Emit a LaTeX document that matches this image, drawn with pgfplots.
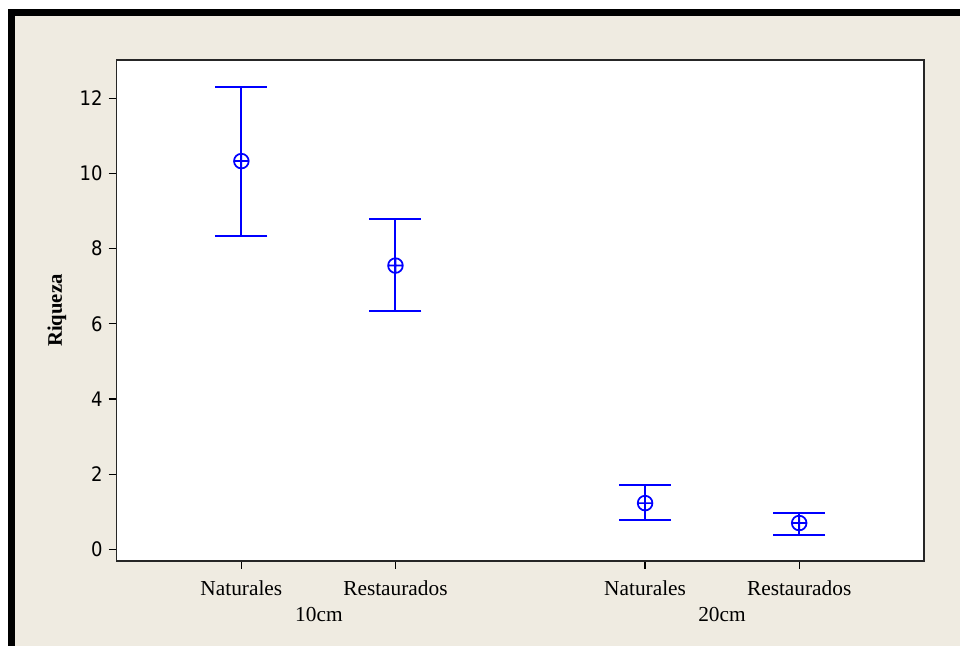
\documentclass[border=0pt]{standalone}
\usepackage{fontspec}
\setmainfont{Liberation Serif}
\newfontfamily\tickfont{DejaVu Sans Condensed}
\usepackage{pgfplots}
\pgfplotsset{compat=1.18}
\usepackage{pgfplotstable}
\definecolor{bgbeige}{HTML}{EFEBE1}
\definecolor{mblue}{RGB}{0,0,255}
\pgfplotstableread{
x y ep em
1    10.33 1.98 1.98
2    7.55  1.23 1.21
3.62 1.23  0.49 0.44
4.62 0.70  0.27 0.32
}\riqueza
\begin{document}
\begin{tikzpicture}
\useasboundingbox (0,0) rectangle (720pt,484.5pt);
\fill[white] (0,0) rectangle (720pt,484.5pt);
\fill[bgbeige] (11.25pt,0) rectangle (720pt,472.5pt);
\fill[black] (6pt,0) rectangle (11.25pt,477.75pt);
\fill[black] (6pt,472.5pt) rectangle (720pt,477.75pt);
\begin{axis}[
  at={(87.4pt,63.75pt)}, anchor=south west,
  scale only axis, width=605.6pt, height=375.75pt,
  xmin=0.19, xmax=5.43, ymin=-0.31, ymax=13.02,
  axis background/.style={fill=white},
  axis line style={line width=1pt, black!85},
  tick style={line width=0.9pt, black},
  tick align=outside, major tick length=6pt,
  xtick pos=bottom, ytick pos=left,
  xtick={1,2,3.62,4.62},
  xticklabels={Naturales,Restaurados,Naturales,Restaurados},
  ytick={0,2,4,6,8,10,12},
  /pgf/number format/assume math mode=true,
  yticklabel style={font=\tickfont\fontsize{15}{17}\selectfont, xshift=-1pt},
  xticklabel style={font=\fontsize{16}{18}\selectfont, anchor=base, yshift=-20pt},
  clip=false,
]
\addplot[color=mblue, line width=1.5pt, only marks, mark=oplus, mark size=5.5pt,
  mark options={color=mblue, line width=1.3pt},
  error bars/.cd, y dir=both, y explicit,
  error bar style={color=mblue, line width=1.5pt},
  error mark options={rotate=90, color=mblue, line width=1.5pt, mark size=19.5pt}]
  table[x=x, y=y, y error plus=ep, y error minus=em] {\riqueza};
\end{axis}
\node[rotate=90, font=\bfseries\fontsize{15.5}{18}\selectfont] at (42.75pt,251.6pt) {Riqueza};
\node[anchor=base, font=\fontsize{16}{18}\selectfont] at (239.2pt,18.2pt) {10cm};
\node[anchor=base, font=\fontsize{16}{18}\selectfont] at (541.5pt,18.2pt) {20cm};
\end{tikzpicture}
\end{document}
